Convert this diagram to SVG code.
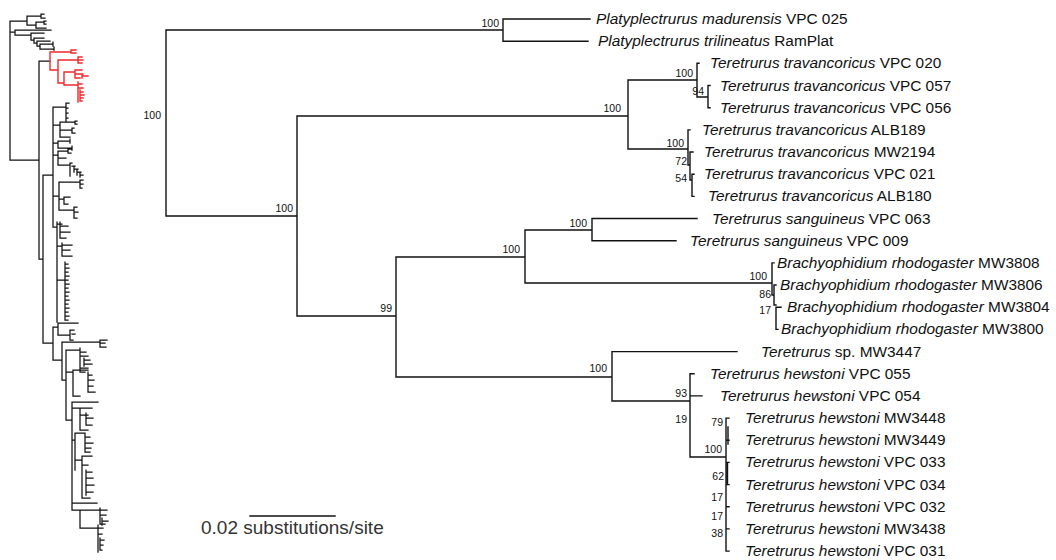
<svg xmlns="http://www.w3.org/2000/svg" width="1056" height="560" viewBox="0 0 1056 560">
<style>
.br{fill:none;stroke:#111;stroke-width:1.4;stroke-linecap:square}
.th{fill:none;stroke:#111;stroke-width:1.25;stroke-linecap:square}
.thr{fill:none;stroke:#f0282d;stroke-width:1.4;stroke-linecap:square}
.tip{font-family:"Liberation Sans",Arial,sans-serif;font-size:15.4px;fill:#111}
.it{font-style:italic}
.sup{font-family:"Liberation Sans",Arial,sans-serif;font-size:10.5px;fill:#111;text-anchor:end}
.scale{font-family:"Liberation Sans",Arial,sans-serif;font-size:19px;fill:#333}
</style>
<rect width="1056" height="560" fill="#fff"/>

<g id="overview-tree">
<path class="th" d="M10,21V160M10,160H39
M10,21H27M27,16V25M27,16H41M41,14V18M41,14H44M41,18H45
M27,25H36M36,22V28M36,22H44M44,21V24M44,21H46M44,24H46M36,28H46
M10,32H15M15,30V35M15,30H51M15,35H31M31,33V40M31,33H44M31,40H34M34,38V43M34,38H44M34,43H37M37,41V46M37,41H50M37,46H40M40,44V49M40,44H53M40,49H54M53,42V46M54,47V50
M39,61V259M39,61H50M39,259H43
M43,175V343M43,175H53M43,343H53
M53,107V227
M53,107H66M66,103V122M66,103H69M66,108H68M66,113H68M66,118H68M66,122H69
M53,125H60M60,122V137M60,122H75M75,121V124M75,121H77M75,124H77M60,130H72M72,128V133M72,128H74M72,133H75M60,137H70
M53,143H58M58,141V148M58,141H70M58,148H72M70,139V143M72,146V150
M53,155H58M58,151V165M58,151H68M68,149V153M68,149H72M68,153H71M58,158H66M58,165H70M70,163V176M70,163H72M72,166H75M74,166V172M74,169H78M77,169V175M77,172H81M80,172V177M80,175H83
M53,196H59M59,182V210M59,182H80M80,180V188M80,180H83M80,184H83M80,188H82M59,199H64M64,197V204M64,197H70M64,204H68M59,210H74M74,207V218M74,207H77M74,212H78M74,218H77
M53,227H57M57,222V322M57,224H62M60,222V238M60,226H68M60,232H70M60,238H66
M57,246H62M62,243V256M62,245H72M62,250H70M62,256H72
M57,280H65M65,262V320M65,264H68M65,268H69M65,272H68M65,276H69M65,280H68M65,284H69M65,288H68M65,292H69M65,296H68M65,300H69M65,304H68M65,308H69M65,312H68M65,316H69M65,320H68
M53,327V360M53,327H58M58,323V335M58,323H78M58,335H70M70,330V340M70,330H74M72,334H75M70,340H73
M53,360H62M62,342V380M62,342H100M100,340V347M100,340H107M100,343H105M100,347H106
M62,380H66M66,350V420
M66,350H80M80,348V372M80,352H86M80,356H88M84,358V366M84,360H90M84,364H92M80,368H88M80,372H85
M66,372H73M73,370V396M73,370H88M88,372V392M88,375H92M88,380H94M88,386H93M88,392H95M73,396H80
M66,420H72M72,402V510
M72,402H98
M72,408H80M80,408V430M80,408H92M80,415H88M86,413V425M86,418H93M86,425H92M80,430H88
M72,440H75M75,433V470M75,433H85M85,433V452M85,437H90M85,443H93M85,448H91M85,452H90
M75,460H82M82,456V498M82,456H92M82,465H88M86,470V495M86,472H92M86,478H93M86,485H94M86,492H93M82,498H90
M72,503H97
M72,510H80M80,510V528M80,510H100M100,508V524M100,510H107M100,515H106M102,518V525M102,521H108M100,524H105
M80,528H98M98,525V552M98,528H103M98,534H102M100,538V550M100,540H104M100,545H103M100,550H102"/>
<path class="thr" d="M50,52V70M50,52H71M71,50V53M71,50H76M71,53H76
M50,70H58M58,60V83M58,60H78M78,57V63M78,57H82M78,60H83M78,63H82
M58,83H64M64,72V85M64,72H75M75,70V78M75,70H82M75,74H83M75,78H80M82,74V78M82,76H88
M64,85H78M78,82V102M78,84H82M78,88H83M80,90V101M80,92H83M80,95H84M80,98H83M80,101H82"/>
</g>

<g id="branches">
<path class="br" d="M166,30V216M166,30H503M166,216H297
M503,19V41.2M503,19H590M503,41.2H588
M297,116V316M297,116H628M297,316H396
M628,80V149M628,80H697M628,149H688
M697,63.3V97M697,63.3H699M697,97H708
M708,85.5V107.7M708,85.5H710M708,107.7H710
M688,129.9V165M688,129.9H690M688,165H690
M690,152V180M690,152H693M690,180H692
M692,174.2V196.4M692,174.2H694M692,196.4H694
M396,257V377M396,257H525M396,377H612
M525,230V283M525,230H592M525,283H772
M592,218.5V240.7M592,218.5H697M592,240.7H676
M772,262.9V295M772,262.9H774M772,295H774
M774,285V305M774,285H776M774,305H776
M776,307.2V329.4M776,307.2H781M776,329.4H778
M612,351.6V401M612,351.6H737M612,401H690
M690,373.7V457M690,373.7H694M690,395.9H702M690,457H726
M726,418.1V551.1M726,418.1H729M726,440.2H729M726,462.4H729M726,484.6H729M726,506.8H729M726,528.9H729M726,551.1H729
M728,427V444M727.5,463V484"/>
</g>

<g id="supports">
<text class="sup" x="161" y="119">100</text>
<text class="sup" x="499" y="27">100</text>
<text class="sup" x="293" y="212">100</text>
<text class="sup" x="621" y="112">100</text>
<text class="sup" x="693" y="77">100</text>
<text class="sup" x="704" y="95">94</text>
<text class="sup" x="684" y="147">100</text>
<text class="sup" x="687" y="165">72</text>
<text class="sup" x="687" y="182">54</text>
<text class="sup" x="392" y="312">99</text>
<text class="sup" x="520" y="253">100</text>
<text class="sup" x="587" y="227">100</text>
<text class="sup" x="767" y="280">100</text>
<text class="sup" x="771" y="298">86</text>
<text class="sup" x="771" y="314">17</text>
<text class="sup" x="607" y="372">100</text>
<text class="sup" x="687" y="397">93</text>
<text class="sup" x="687" y="423">19</text>
<text class="sup" x="722" y="453">100</text>
<text class="sup" x="723" y="426">79</text>
<text class="sup" x="724" y="480">62</text>
<text class="sup" x="723" y="501">17</text>
<text class="sup" x="723" y="520">17</text>
<text class="sup" x="723" y="537">38</text>
</g>

<g id="tip-01"><text class="tip" x="596" y="24"><tspan class="it">Platyplectrurus madurensis</tspan> VPC 025</text></g>
<g id="tip-02"><text class="tip" x="598" y="46.2"><tspan class="it">Platyplectrurus trilineatus</tspan> RamPlat</text></g>
<g id="tip-03"><text class="tip" x="710" y="68.3"><tspan class="it">Teretrurus travancoricus</tspan> VPC 020</text></g>
<g id="tip-04"><text class="tip" x="720" y="90.5"><tspan class="it">Teretrurus travancoricus</tspan> VPC 057</text></g>
<g id="tip-05"><text class="tip" x="720" y="112.7"><tspan class="it">Teretrurus travancoricus</tspan> VPC 056</text></g>
<g id="tip-06"><text class="tip" x="702" y="134.9"><tspan class="it">Teretrurus travancoricus</tspan> ALB189</text></g>
<g id="tip-07"><text class="tip" x="704" y="157"><tspan class="it">Teretrurus travancoricus</tspan> MW2194</text></g>
<g id="tip-08"><text class="tip" x="704" y="179.2"><tspan class="it">Teretrurus travancoricus</tspan> VPC 021</text></g>
<g id="tip-09"><text class="tip" x="708" y="201.4"><tspan class="it">Teretrurus travancoricus</tspan> ALB180</text></g>
<g id="tip-10"><text class="tip" x="712" y="223.5"><tspan class="it">Teretrurus sanguineus</tspan> VPC 063</text></g>
<g id="tip-11"><text class="tip" x="690" y="245.7"><tspan class="it">Teretrurus sanguineus</tspan> VPC 009</text></g>
<g id="tip-12"><text class="tip" x="777" y="267.9"><tspan class="it">Brachyophidium rhodogaster</tspan> MW3808</text></g>
<g id="tip-13"><text class="tip" x="780" y="290"><tspan class="it">Brachyophidium rhodogaster</tspan> MW3806</text></g>
<g id="tip-14"><text class="tip" x="787" y="312.2"><tspan class="it">Brachyophidium rhodogaster</tspan> MW3804</text></g>
<g id="tip-15"><text class="tip" x="781" y="334.4"><tspan class="it">Brachyophidium rhodogaster</tspan> MW3800</text></g>
<g id="tip-16"><text class="tip" x="761" y="356.6"><tspan class="it">Teretrurus</tspan> sp. MW3447</text></g>
<g id="tip-17"><text class="tip" x="710" y="378.7"><tspan class="it">Teretrurus hewstoni</tspan> VPC 055</text></g>
<g id="tip-18"><text class="tip" x="720" y="400.9"><tspan class="it">Teretrurus hewstoni</tspan> VPC 054</text></g>
<g id="tip-19"><text class="tip" x="745" y="423.1"><tspan class="it">Teretrurus hewstoni</tspan> MW3448</text></g>
<g id="tip-20"><text class="tip" x="745" y="445.2"><tspan class="it">Teretrurus hewstoni</tspan> MW3449</text></g>
<g id="tip-21"><text class="tip" x="745" y="467.4"><tspan class="it">Teretrurus hewstoni</tspan> VPC 033</text></g>
<g id="tip-22"><text class="tip" x="745" y="489.6"><tspan class="it">Teretrurus hewstoni</tspan> VPC 034</text></g>
<g id="tip-23"><text class="tip" x="745" y="511.8"><tspan class="it">Teretrurus hewstoni</tspan> VPC 032</text></g>
<g id="tip-24"><text class="tip" x="745" y="533.9"><tspan class="it">Teretrurus hewstoni</tspan> MW3438</text></g>
<g id="tip-25"><text class="tip" x="745" y="556.1"><tspan class="it">Teretrurus hewstoni</tspan> VPC 031</text></g>

<g id="scale-bar">
<path class="br" d="M250,516H335"/>
<text class="scale" x="201" y="534">0.02 substitutions/site</text>
</g>
</svg>
